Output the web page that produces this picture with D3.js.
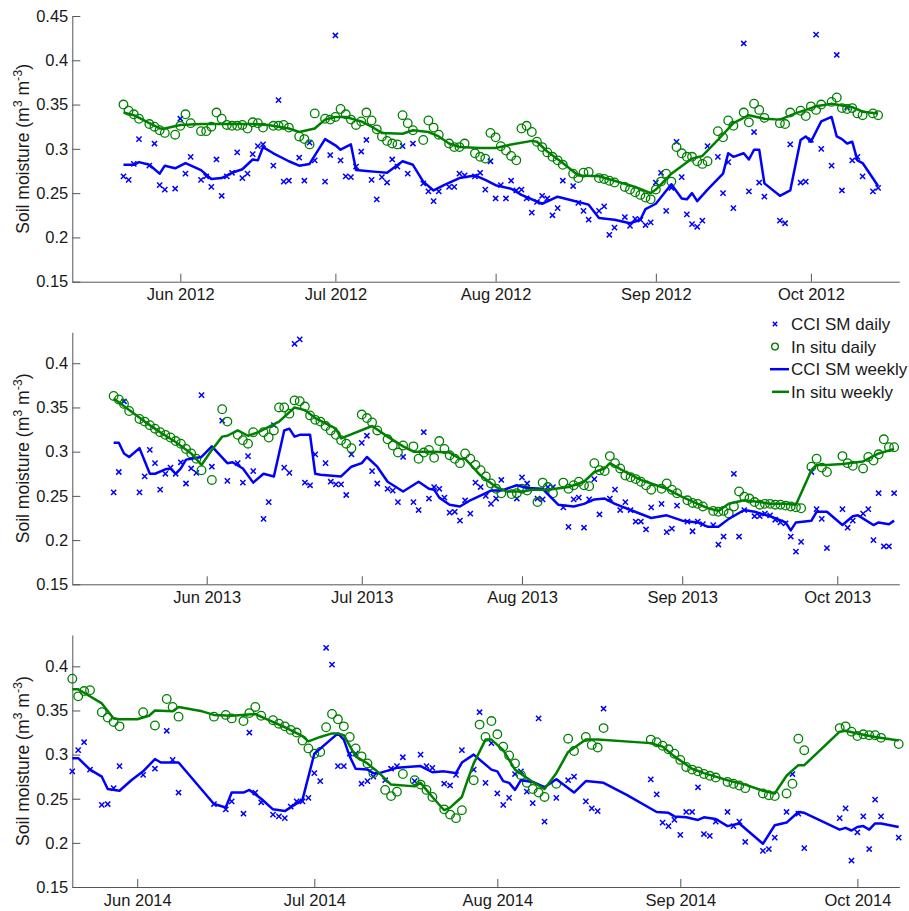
<!DOCTYPE html>
<html>
<head>
<meta charset="utf-8">
<script src="https://cdn.jsdelivr.net/npm/d3@7"></script>
<style>
  body { margin: 0; background: #fff; }
  svg text { font-family: "Liberation Sans", Arial, Helvetica, sans-serif; fill: #1a1a1a; }
</style>
</head>
<body>
<div id="chart"></div>
<script>
// all series: [days after 1 June of that year, soil moisture m3/m3]
const cciDaily2012 = [[-11,.269],[-10,.265],[-9,.283],[-8,.311],[-6,.281],[-5,.306],[-4,.259],[-3,.254],[-1,.255],[0,.334],[1,.272],[2,.291],[4,.265],[5,.269],[6,.257],[7,.288],[8,.247],[9,.269],[10,.273],[11,.296],[12,.267],[13,.272],[14,.294],[15,.303],[16,.305],[18,.281],[19,.355],[20,.263],[21,.264],[23,.290],[24,.264],[25,.307],[26,.287],[28,.263],[29,.293],[30,.428],[31,.287],[32,.269],[33,.268],[34,.280],[35,.297],[36,.310],[37,.265],[38,.243],[39,.268],[40,.262],[41,.288],[42,.280],[43,.303],[44,.272],[45,.306],[47,.261],[48,.252],[49,.241],[50,.252],[52,.257],[53,.257],[54,.272],[55,.270],[57,.269],[58,.273],[59,.254],[60,.286],[61,.244],[62,.259],[63,.244],[64,.264],[65,.253],[66,.254],[67,.244],[68,.228],[69,.240],[70,.247],[71,.244],[72,.225],[73,.233],[74,.264],[76,.258],[77,.239],[78,.230],[79,.220],[81,.230],[82,.235],[83,.203],[84,.211],[86,.223],[87,.213],[88,.221],[89,.220],[90,.214],[91,.217],[92,.262],[93,.273],[94,.230],[95,.256],[96,.308],[97,.268],[98,.226],[99,.215],[100,.212],[101,.219],[102,.303],[104,.291],[105,.250],[106,.285],[107,.233],[109,.419],[110,.252],[111,.319],[112,.262],[113,.246],[116,.219],[117,.216],[118,.305],[120,.262],[121,.263],[122,.310],[123,.429],[124,.300],[126,.281],[127,.406],[128,.253],[129,.347],[130,.287],[131,.291],[132,.269],[134,.252],[135,.256]];
const inSituDaily2012 = [[-11,.350],[-10,.343],[-9,.339],[-8,.334],[-6,.328],[-5,.325],[-4,.321],[-3,.318],[-1,.316],[0,.326],[1,.339],[2,.329],[4,.320],[5,.320],[6,.325],[7,.341],[8,.334],[9,.327],[10,.326],[11,.326],[12,.327],[13,.323],[14,.330],[15,.329],[16,.324],[18,.326],[19,.326],[20,.327],[21,.324],[23,.314],[24,.311],[25,.305],[26,.340],[28,.334],[29,.333],[30,.336],[31,.345],[32,.339],[33,.333],[34,.327],[35,.331],[36,.341],[37,.332],[38,.322],[39,.314],[40,.309],[41,.306],[42,.305],[43,.338],[44,.329],[45,.321],[47,.310],[48,.332],[49,.324],[50,.316],[52,.306],[53,.302],[54,.302],[55,.306],[57,.295],[58,.291],[59,.289],[60,.318],[61,.313],[62,.303],[63,.298],[64,.292],[65,.287],[66,.323],[67,.326],[68,.319],[69,.308],[70,.302],[71,.296],[72,.291],[73,.287],[74,.282],[76,.272],[77,.267],[78,.273],[79,.274],[81,.267],[82,.266],[83,.264],[84,.262],[86,.257],[87,.254],[88,.251],[89,.248],[90,.245],[91,.243],[92,.254],[93,.263],[94,.272],[95,.263],[96,.302],[97,.295],[98,.291],[99,.291],[100,.286],[101,.283],[102,.286],[104,.320],[105,.313],[106,.332],[107,.326],[109,.341],[110,.330],[111,.351],[112,.344],[113,.335],[116,.329],[117,.328],[118,.341],[120,.343],[121,.337],[122,.348],[123,.344],[124,.350],[126,.353],[127,.358],[128,.346],[129,.345],[130,.346],[131,.340],[132,.338],[134,.340],[135,.338]];
const cciWeekly2012 = [[-11,.282],[-9,.282],[-8,.285],[-6,.282],[-4,.272],[-3,.281],[-1,.278],[1,.284],[4,.276],[6,.266],[8,.267],[10,.273],[12,.277],[14,.288],[15,.287],[16,.302],[18,.295],[21,.286],[23,.281],[25,.283],[28,.311],[30,.304],[31,.299],[33,.305],[34,.276],[36,.275],[38,.274],[40,.273],[43,.286],[45,.282],[47,.263],[49,.253],[51,.259],[54,.267],[57,.270],[59,.265],[61,.259],[64,.255],[66,.248],[70,.238],[73,.246],[77,.240],[79,.237],[81,.222],[84,.220],[87,.216],[89,.220],[90,.232],[92,.238],[95,.260],[97,.244],[98,.243],[99,.250],[100,.241],[102,.254],[105,.272],[106,.295],[107,.291],[109,.295],[110,.288],[111,.299],[112,.299],[113,.261],[116,.247],[118,.253],[120,.310],[121,.314],[122,.308],[124,.331],[126,.336],[127,.314],[128,.311],[129,.306],[130,.308],[131,.287],[132,.284],[135,.258]];
const inSituWeekly2012 = [[-11,.341],[-9,.338],[-4,.323],[-3,.323],[0,.327],[4,.328],[7,.328],[10,.328],[14,.328],[17,.327],[21,.323],[23,.319],[26,.323],[28,.333],[30,.336],[32,.336],[35,.331],[37,.325],[39,.318],[43,.317],[45,.321],[48,.319],[50,.314],[52,.306],[54,.302],[58,.301],[61,.301],[64,.305],[68,.309],[69,.308],[71,.297],[74,.284],[77,.270],[81,.269],[84,.264],[88,.257],[91,.250],[92,.254],[95,.272],[99,.289],[101,.292],[104,.310],[107,.329],[110,.338],[113,.334],[116,.333],[119,.340],[123,.348],[126,.351],[130,.347],[132,.342],[135,.340]];

const cciDaily2013 = [[-18,.254],[-17,.277],[-16,.357],[-13,.254],[-12,.272],[-11,.302],[-10,.287],[-9,.257],[-8,.275],[-7,.282],[-6,.275],[-5,.288],[-4,.264],[-3,.281],[-2,.276],[-1,.364],[1,.283],[3,.335],[4,.267],[6,.287],[7,.265],[8,.295],[9,.278],[11,.224],[12,.243],[13,.330],[15,.282],[16,.276],[17,.422],[18,.427],[19,.265],[20,.262],[21,.297],[23,.287],[24,.266],[25,.263],[26,.263],[27,.251],[28,.297],[30,.310],[31,.318],[32,.278],[33,.264],[35,.258],[36,.256],[37,.243],[38,.294],[40,.243],[41,.234],[42,.322],[43,.247],[44,.260],[45,.258],[46,.248],[47,.231],[48,.232],[49,.222],[50,.245],[51,.230],[52,.265],[53,.260],[54,.250],[55,.241],[56,.247],[57,.268],[60,.247],[61,.271],[62,.264],[64,.247],[65,.246],[66,.260],[67,.260],[69,.237],[70,.215],[71,.246],[72,.248],[73,.214],[74,.246],[75,.269],[76,.229],[78,.247],[79,.257],[80,.234],[81,.243],[82,.234],[83,.221],[84,.221],[85,.212],[86,.237],[88,.241],[89,.209],[90,.213],[91,.239],[93,.221],[94,.210],[95,.221],[96,.218],[98,.217],[99,.195],[100,.204],[102,.275],[103,.204],[104,.234],[106,.227],[107,.227],[108,.230],[109,.228],[110,.223],[111,.220],[112,.219],[113,.204],[114,.187],[115,.198],[117,.277],[118,.235],[119,.224],[120,.191],[123,.235],[124,.214],[125,.222],[127,.230],[128,.235],[129,.200],[130,.253],[131,.193],[132,.193],[133,.253]];
const inSituDaily2013 = [[-18,.363],[-17,.359],[-16,.354],[-15,.346],[-13,.337],[-12,.334],[-11,.330],[-10,.326],[-9,.322],[-8,.319],[-7,.316],[-6,.312],[-5,.309],[-4,.303],[-3,.298],[-2,.292],[-1,.279],[1,.268],[3,.348],[4,.334],[6,.319],[7,.313],[8,.309],[9,.322],[11,.322],[12,.316],[13,.324],[14,.350],[15,.350],[16,.343],[17,.358],[18,.357],[19,.351],[20,.341],[21,.336],[22,.334],[23,.329],[24,.324],[25,.319],[26,.313],[27,.309],[28,.304],[30,.342],[31,.338],[32,.333],[33,.324],[35,.314],[36,.307],[37,.299],[38,.307],[40,.306],[41,.292],[42,.299],[43,.302],[44,.293],[45,.312],[46,.303],[47,.296],[48,.292],[49,.287],[50,.298],[51,.292],[52,.285],[53,.279],[54,.272],[55,.264],[56,.258],[57,.253],[59,.252],[60,.253],[61,.258],[62,.256],[64,.243],[65,.265],[66,.260],[67,.253],[69,.265],[70,.258],[71,.262],[72,.266],[73,.262],[74,.261],[75,.287],[76,.279],[77,.278],[78,.295],[79,.287],[80,.281],[81,.273],[82,.271],[83,.269],[84,.266],[85,.262],[86,.257],[88,.258],[89,.264],[90,.257],[91,.253],[93,.245],[94,.242],[95,.241],[96,.238],[98,.233],[99,.232],[100,.233],[101,.230],[102,.238],[103,.255],[104,.249],[105,.247],[106,.243],[107,.240],[108,.241],[109,.241],[110,.240],[111,.240],[112,.239],[113,.238],[114,.237],[115,.236],[117,.283],[118,.292],[119,.282],[120,.277],[123,.295],[124,.287],[125,.284],[127,.281],[128,.294],[129,.290],[130,.297],[131,.314],[132,.305],[133,.305]];
const cciWeekly2013 = [[-18,.310],[-17,.310],[-16,.298],[-15,.294],[-13,.304],[-11,.275],[-10,.275],[-8,.280],[-7,.281],[-6,.275],[-5,.281],[-4,.291],[-3,.292],[-1,.294],[1,.306],[4,.287],[5,.288],[7,.281],[9,.265],[11,.275],[13,.272],[15,.324],[16,.326],[17,.317],[18,.319],[20,.319],[21,.275],[22,.274],[26,.272],[28,.283],[30,.287],[31,.294],[33,.283],[35,.266],[38,.255],[41,.266],[43,.258],[44,.257],[45,.248],[47,.240],[49,.238],[51,.245],[54,.253],[55,.256],[57,.256],[60,.262],[62,.259],[65,.258],[68,.240],[71,.238],[73,.241],[75,.246],[77,.247],[79,.241],[82,.234],[86,.225],[89,.228],[92,.222],[95,.220],[97,.215],[99,.215],[101,.224],[104,.234],[106,.232],[109,.227],[112,.220],[113,.211],[114,.220],[117,.222],[118,.232],[120,.232],[123,.217],[125,.227],[126,.228],[129,.217],[130,.220],[132,.218],[133,.222]];
const inSituWeekly2013 = [[-18,.360],[-15,.347],[-12,.334],[-9,.322],[-6,.311],[-3,.298],[-1,.285],[1,.302],[3,.317],[4,.318],[6,.324],[8,.318],[10,.322],[12,.328],[14,.334],[17,.350],[19,.347],[21,.338],[25,.326],[26,.315],[32,.329],[35,.317],[38,.306],[40,.300],[44,.300],[47,.299],[49,.292],[50,.292],[53,.273],[56,.260],[58,.255],[61,.255],[63,.257],[66,.257],[70,.260],[73,.266],[75,.277],[77,.281],[78,.287],[81,.277],[84,.268],[86,.264],[89,.258],[92,.249],[95,.241],[97,.236],[99,.233],[101,.241],[104,.245],[107,.243],[109,.241],[112,.241],[114,.240],[117,.279],[118,.285],[120,.285],[123,.286],[127,.289],[130,.298],[133,.303]];

const cciDaily2014 = [[-11,.281],[-10,.305],[-9,.314],[-8,.283],[-6,.243],[-5,.244],[-4,.262],[-3,.287],[1,.277],[3,.284],[5,.327],[6,.294],[7,.257],[13,.244],[15,.238],[16,.247],[18,.233],[19,.325],[20,.257],[21,.246],[23,.232],[24,.230],[25,.228],[26,.241],[27,.247],[28,.247],[29,.251],[30,.279],[31,.270],[32,.421],[33,.402],[34,.287],[35,.287],[36,.301],[37,.301],[38,.267],[39,.270],[40,.275],[42,.271],[43,.284],[44,.287],[45,.297],[47,.270],[48,.300],[49,.287],[50,.285],[52,.267],[53,.265],[54,.277],[55,.305],[57,.283],[58,.348],[59,.268],[60,.313],[61,.256],[62,.243],[63,.251],[64,.278],[65,.281],[66,.258],[67,.245],[68,.341],[69,.224],[71,.251],[73,.271],[74,.275],[76,.247],[77,.239],[78,.236],[79,.352],[87,.272],[88,.255],[89,.223],[90,.219],[91,.226],[92,.209],[93,.235],[94,.235],[95,.263],[96,.210],[97,.208],[98,.224],[100,.235],[101,.219],[102,.224],[103,.201],[106,.191],[107,.193],[108,.206],[110,.235],[111,.278],[112,.233],[113,.194],[119,.228],[120,.239],[121,.180],[122,.212],[123,.230],[124,.193],[125,.249],[126,.230],[129,.206]];
const inSituDaily2014 = [[-11,.386],[-10,.366],[-9,.372],[-8,.373],[-6,.348],[-5,.342],[-4,.337],[-3,.332],[1,.348],[3,.333],[5,.363],[6,.354],[7,.343],[13,.343],[15,.345],[16,.341],[18,.338],[19,.347],[20,.354],[21,.344],[23,.339],[24,.335],[25,.332],[26,.328],[27,.325],[28,.316],[29,.307],[30,.301],[31,.303],[32,.331],[33,.346],[34,.340],[35,.332],[36,.320],[37,.307],[38,.298],[39,.290],[40,.279],[42,.260],[43,.253],[44,.258],[45,.278],[47,.271],[48,.266],[49,.260],[50,.252],[52,.238],[53,.232],[54,.228],[55,.237],[57,.271],[58,.334],[59,.320],[60,.338],[61,.323],[62,.309],[63,.299],[64,.290],[65,.277],[66,.268],[67,.261],[68,.257],[69,.252],[71,.267],[73,.318],[74,.304],[76,.320],[77,.311],[78,.308],[79,.330],[87,.317],[88,.314],[89,.310],[90,.306],[91,.301],[92,.294],[93,.286],[94,.283],[95,.281],[96,.278],[97,.276],[98,.274],[100,.269],[101,.267],[102,.265],[103,.262],[106,.256],[107,.254],[108,.253],[110,.256],[111,.267],[112,.318],[113,.305],[119,.330],[120,.332],[121,.326],[122,.321],[123,.323],[124,.322],[125,.322],[126,.319],[129,.312]];
const cciWeekly2014 = [[-11,.296],[-10,.296],[-8,.283],[-6,.275],[-5,.261],[-3,.259],[-1,.271],[1,.281],[3,.295],[4,.291],[7,.291],[13,.244],[15,.240],[16,.257],[18,.257],[19,.260],[21,.250],[23,.238],[25,.236],[28,.249],[30,.301],[34,.324],[35,.317],[36,.298],[37,.284],[39,.283],[40,.279],[41,.279],[44,.285],[48,.287],[50,.280],[52,.281],[53,.280],[54,.279],[55,.291],[57,.300],[60,.283],[61,.281],[62,.270],[63,.268],[64,.260],[65,.271],[67,.269],[69,.263],[71,.272],[74,.257],[76,.270],[79,.268],[83,.254],[88,.235],[90,.234],[91,.230],[93,.229],[95,.226],[96,.229],[98,.227],[100,.219],[102,.222],[106,.199],[108,.220],[110,.223],[112,.235],[113,.234],[119,.215],[120,.217],[121,.214],[122,.218],[123,.219],[124,.215],[125,.222],[126,.222],[129,.218]];
const inSituWeekly2014 = [[-11,.374],[-10,.374],[-6,.358],[-4,.341],[-3,.340],[0,.340],[2,.344],[3,.350],[6,.349],[7,.354],[11,.349],[13,.345],[16,.344],[20,.346],[22,.340],[25,.331],[28,.321],[29,.315],[31,.320],[33,.324],[34,.324],[35,.322],[37,.298],[39,.290],[41,.279],[43,.266],[47,.264],[48,.268],[50,.252],[52,.237],[53,.240],[54,.246],[55,.252],[56,.272],[57,.290],[59,.317],[60,.317],[62,.305],[64,.283],[67,.269],[69,.261],[71,.279],[73,.303],[76,.317],[78,.317],[87,.313],[89,.309],[91,.298],[94,.284],[96,.279],[98,.275],[100,.271],[103,.266],[106,.259],[108,.256],[110,.276],[112,.288],[113,.288],[119,.326],[120,.327],[122,.324],[125,.320],[129,.316]];

const tickMonths = [5, 6, 7, 8, 9];   // Jun..Oct (0-based months)
const yTicksTop = [0.15, 0.2, 0.25, 0.3, 0.35, 0.4, 0.45];
const yTicks = [0.15, 0.2, 0.25, 0.3, 0.35, 0.4];
const legendLabels = ["CCI SM daily", "In situ daily", "CCI SM weekly", "In situ weekly"];

const blue = "#0000ff", green = "#008000";
const left = 72.3, right = 899.3;

const panels = [
  { year: 2012, cci: cciDaily2012, situ: inSituDaily2012, cciW: cciWeekly2012, situW: inSituWeekly2012,
    xDays: [-20.9, 139.1], yMax: 0.45, ticks: yTicksTop, top: 16, bottom: 281.7 },
  { year: 2013, cci: cciDaily2013, situ: inSituDaily2013, cciW: cciWeekly2013, situW: inSituWeekly2013,
    xDays: [-26, 134], yMax: 0.435, ticks: yTicks, top: 332.3, bottom: 584.3 },
  { year: 2014, cci: cciDaily2014, situ: inSituDaily2014, cciW: cciWeekly2014, situW: inSituWeekly2014,
    xDays: [-11, 129.1], yMax: 0.4355, ticks: yTicks, top: 635, bottom: 887 }
];

const svg = d3.select("#chart").append("svg")
  .attr("width", 909)
  .attr("height", 911);

const toDate = (year, d) => new Date(Date.UTC(year, 5, 1) + d * 864e5);
const xMark = s => `M${-s},${-s}L${s},${s}M${-s},${s}L${s},${-s}`;

function styleAxis(g) {
  g.attr("font-size", 16.5).attr("font-family", null);
  g.select(".domain").attr("stroke", "#555");
  g.selectAll(".tick line").attr("stroke", "#555");
  g.selectAll(".tick text").attr("fill", "#1a1a1a");
}

panels.forEach(p => {
  const x = d3.scaleUtc()
    .domain(p.xDays.map(d => toDate(p.year, d)))
    .range([left, right]);
  const y = d3.scaleLinear()
    .domain([0.15, p.yMax])
    .range([p.bottom, p.top]);

  const g = svg.append("g");

  // Axes (box off, ticks pointing inwards)
  g.append("g")
    .attr("transform", `translate(0,${p.bottom})`)
    .call(d3.axisBottom(x)
      .tickValues(tickMonths.map(m => new Date(Date.UTC(p.year, m, 1))))
      .tickFormat(d3.utcFormat("%b %Y"))
      .tickSize(-8).tickSizeOuter(0).tickPadding(7))
    .call(styleAxis);

  g.append("g")
    .attr("transform", `translate(${left},0)`)
    .call(d3.axisLeft(y)
      .tickValues(p.ticks)
      .tickFormat(d => String(+d.toFixed(2)))
      .tickSize(-8).tickSizeOuter(0).tickPadding(4))
    .call(styleAxis);

  // Y label with superscripts
  const lab = g.append("text")
    .attr("transform", `translate(29,${(p.top + p.bottom) / 2}) rotate(-90)`)
    .attr("text-anchor", "middle")
    .attr("font-size", 17.5);
  lab.append("tspan").text("Soil moisture (m");
  lab.append("tspan").attr("font-size", 12.5).attr("dy", -7.5).text("3");
  lab.append("tspan").attr("dy", 7.5).text(" m");
  lab.append("tspan").attr("font-size", 12.5).attr("dy", -7.5).text("-3");
  lab.append("tspan").attr("dy", 7.5).text(")");

  // CCI SM daily
  g.append("g").selectAll("path")
    .data(p.cci)
    .join("path")
    .attr("transform", d => `translate(${x(toDate(p.year, d[0]))},${y(d[1])})`)
    .attr("d", xMark(2.6))
    .attr("stroke", blue)
    .attr("stroke-width", 1.5)
    .attr("fill", "none");

  // In situ daily
  g.append("g").selectAll("circle")
    .data(p.situ)
    .join("circle")
    .attr("cx", d => x(toDate(p.year, d[0])))
    .attr("cy", d => y(d[1]))
    .attr("r", 4.3)
    .attr("stroke", green)
    .attr("stroke-width", 1.3)
    .attr("fill", "none");

  const line = d3.line()
    .x(d => x(toDate(p.year, d[0])))
    .y(d => y(d[1]));

  g.append("path")
    .datum(p.cciW)
    .attr("d", line)
    .attr("fill", "none")
    .attr("stroke", blue)
    .attr("stroke-width", 2.5)
    .attr("stroke-linejoin", "round");

  g.append("path")
    .datum(p.situW)
    .attr("d", line)
    .attr("fill", "none")
    .attr("stroke", green)
    .attr("stroke-width", 2.5)
    .attr("stroke-linejoin", "round");
});

// Legend
const legend = svg.append("g").attr("transform", "translate(775,324)");
legendLabels.forEach((name, i) => {
  const row = legend.append("g").attr("transform", `translate(0,${i * 22.6})`);
  if (i === 0) {
    row.append("path").attr("d", xMark(2.2)).attr("stroke", blue).attr("stroke-width", 1.5);
  } else if (i === 1) {
    row.append("circle").attr("r", 3.4).attr("fill", "none").attr("stroke", green).attr("stroke-width", 1.3);
  } else {
    row.append("line").attr("x1", i === 2 ? -5 : -3).attr("x2", 14)
      .attr("stroke", i === 2 ? blue : green).attr("stroke-width", 2.5);
  }
  row.append("text")
    .attr("x", 16)
    .attr("dy", "0.36em")
    .attr("font-size", 17)
    .text(name);
});
</script>
</body>
</html>
